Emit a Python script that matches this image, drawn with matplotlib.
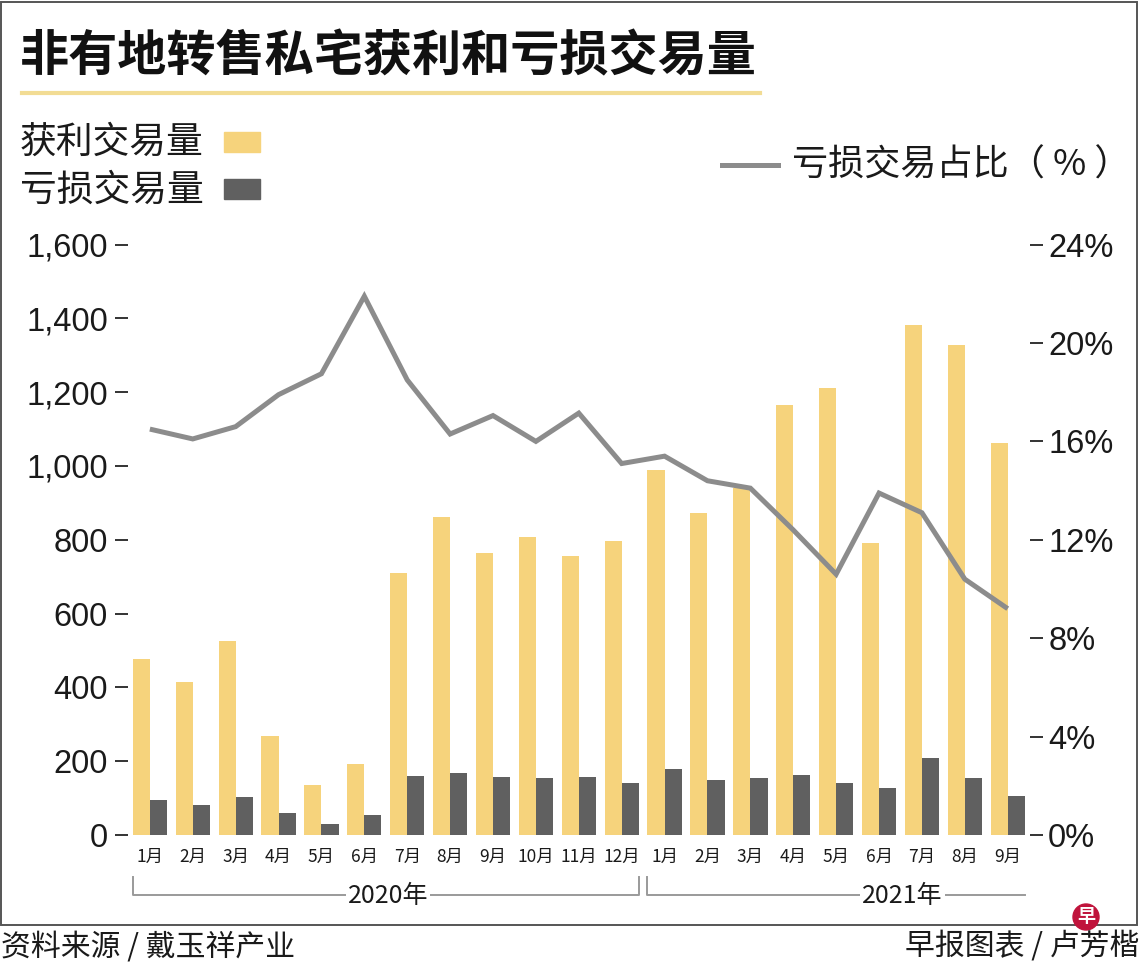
"""Resale profit and loss transactions for non-landed private homes."""

import matplotlib
matplotlib.use("Agg")
import matplotlib.pyplot as plt
import numpy as np
from matplotlib.lines import Line2D
from matplotlib.patches import Rectangle, Ellipse

# ---- data -------------------------------------------------------------
month_labels = ["1月", "2月", "3月", "4月", "5月", "6月", "7月", "8月", "9月",
                "10月", "11月", "12月",
                "1月", "2月", "3月", "4月", "5月", "6月", "7月", "8月", "9月"]
profit_deals = [478, 415, 527, 269, 136, 193, 710, 861, 765, 808, 756, 798,
                988, 872, 940, 1165, 1211, 790, 1381, 1327, 1061]
loss_deals = [95, 80, 104, 59, 31, 55, 161, 167, 157, 154, 156, 142,
              179, 148, 155, 163, 142, 128, 208, 155, 107]
loss_share = [16.5, 16.1, 16.6, 17.9, 18.75, 21.9, 18.5, 16.3, 17.05, 16.0,
              17.15, 15.1, 15.4, 14.4, 14.1, 12.4, 10.6, 13.9, 13.1, 10.4, 9.2]
left_ticks = [0, 200, 400, 600, 800, 1000, 1200, 1400, 1600]
right_ticks = [0, 4, 8, 12, 16, 20, 24]
years = ["2020年", "2021年"]

YELLOW = "#F6D37C"
DARK = "#606060"
LINE = "#8C8C8C"
CJK = ["Noto Sans CJK SC", "DejaVu Sans"]
NUM = ["Liberation Sans", "DejaVu Sans"]

W, H = 1140, 968


def fx(px):
    return px / W


def fy(py):
    return 1 - py / H


fig = plt.figure(figsize=(W / 100, H / 100), dpi=100)
fig.patch.set_facecolor("white")

ax = fig.add_axes([fx(128), fy(835), fx(1030) - fx(128), fy(244.6) - fy(835)])
ax2 = ax.twinx()

x = np.arange(len(month_labels))
ax.bar(x - 0.2, profit_deals, width=0.4, color=YELLOW, zorder=2)
ax.bar(x + 0.2, loss_deals, width=0.4, color=DARK, zorder=2)
ax2.plot(x, loss_share, color=LINE, lw=3.6, solid_joinstyle="miter",
         solid_capstyle="butt", clip_on=False)

ax.set_xlim(-0.51, 20.52)
ax.set_ylim(0, 1600)
ax2.set_ylim(0, 24)

for a in (ax, ax2):
    for s in a.spines.values():
        s.set_visible(False)

ax.set_yticks(left_ticks)
ax.set_yticklabels([f"{v:,}" for v in left_ticks], family=NUM, fontsize=23.5,
                   color="#1a1a1a")
ax.tick_params(axis="y", length=9.5, width=1.4, pad=5, color="#333333")
ax2.set_yticks(right_ticks)
ax2.set_yticklabels([f"{v}%" for v in right_ticks], family=NUM, fontsize=23.5,
                    color="#1a1a1a")
ax2.tick_params(axis="y", length=9.5, width=1.4, pad=3.6, color="#333333")

ax.set_xticks(x)
ax.set_xticklabels(month_labels, family=CJK, fontsize=12.5, color="#1a1a1a")
ax.tick_params(axis="x", length=0, pad=9)

# year brackets under the month labels
tr = ax.get_xaxis_transform()
y_top, y_bot = -0.0712, -0.1017
# 2020: ticks at both ends; 2021: tick at the left end only
ax.plot([-0.4, -0.4, 11.4, 11.4], [y_top, y_bot, y_bot, y_top],
        transform=tr, color="#9a9a9a", lw=1.4, clip_on=False)
ax.plot([11.6, 11.6, 20.4], [y_top, y_bot, y_bot],
        transform=tr, color="#9a9a9a", lw=1.4, clip_on=False)
for xt, lab in [(5.55, years[0]), (17.55, years[1])]:
    ax.text(xt, -0.1034, lab, transform=tr, ha="center", va="center",
            family=CJK, fontsize=18, color="#1a1a1a",
            bbox=dict(facecolor="white", edgecolor="none", pad=1.5))

# ---- title and legends ------------------------------------------------
fig.text(fx(20), fy(57), "非有地转售私宅获利和亏损交易量", family=CJK,
         fontsize=35.4, fontweight="heavy", ha="left", va="center",
         color="#111111")
fig.add_artist(Line2D([fx(22), fx(760)], [fy(93), fy(93)], color="#F2DC94",
                      lw=3))

fig.text(fx(20), fy(142), "获利交易量", family=CJK, fontsize=26.5,
         ha="left", va="center", color="#1a1a1a")
fig.text(fx(20), fy(190), "亏损交易量", family=CJK, fontsize=26.5,
         ha="left", va="center", color="#1a1a1a")
fig.add_artist(Rectangle((fx(224), fy(152)), fx(36), 20 / H, color=YELLOW,
                         transform=fig.transFigure))
fig.add_artist(Rectangle((fx(224), fy(199)), fx(36), 20 / H, color=DARK,
                         transform=fig.transFigure))

fig.add_artist(Line2D([fx(722), fx(778)], [fy(165), fy(165)], color=LINE,
                      lw=3.6))
fig.text(fx(792), fy(166), "亏损交易占比（ % ）", family=CJK, fontsize=26,
         ha="left", va="center", color="#1a1a1a")

# ---- frame and footer -------------------------------------------------
fig.add_artist(Rectangle((fx(1), fy(925)), fx(1136), 923 / H, fill=False,
                         edgecolor="#555555", lw=1.4,
                         transform=fig.transFigure))
fig.text(fx(1), fy(947), "资料来源 / 戴玉祥产业", family=CJK, fontsize=21.5,
         ha="left", va="center", color="#1a1a1a")
fig.text(fx(1139), fy(947), "早报图表 / 卢芳楷", family=CJK, fontsize=21.5,
         ha="right", va="center", color="#1a1a1a")
fig.add_artist(Ellipse((fx(1086), fy(917)), 26 / W, 26 / H, color="#C0143C",
                       transform=fig.transFigure))
fig.text(fx(1086), fy(917), "早", family=CJK, fontsize=13, fontweight="bold",
         ha="center", va="center", color="white")

fig.savefig("out.png", dpi=100)
